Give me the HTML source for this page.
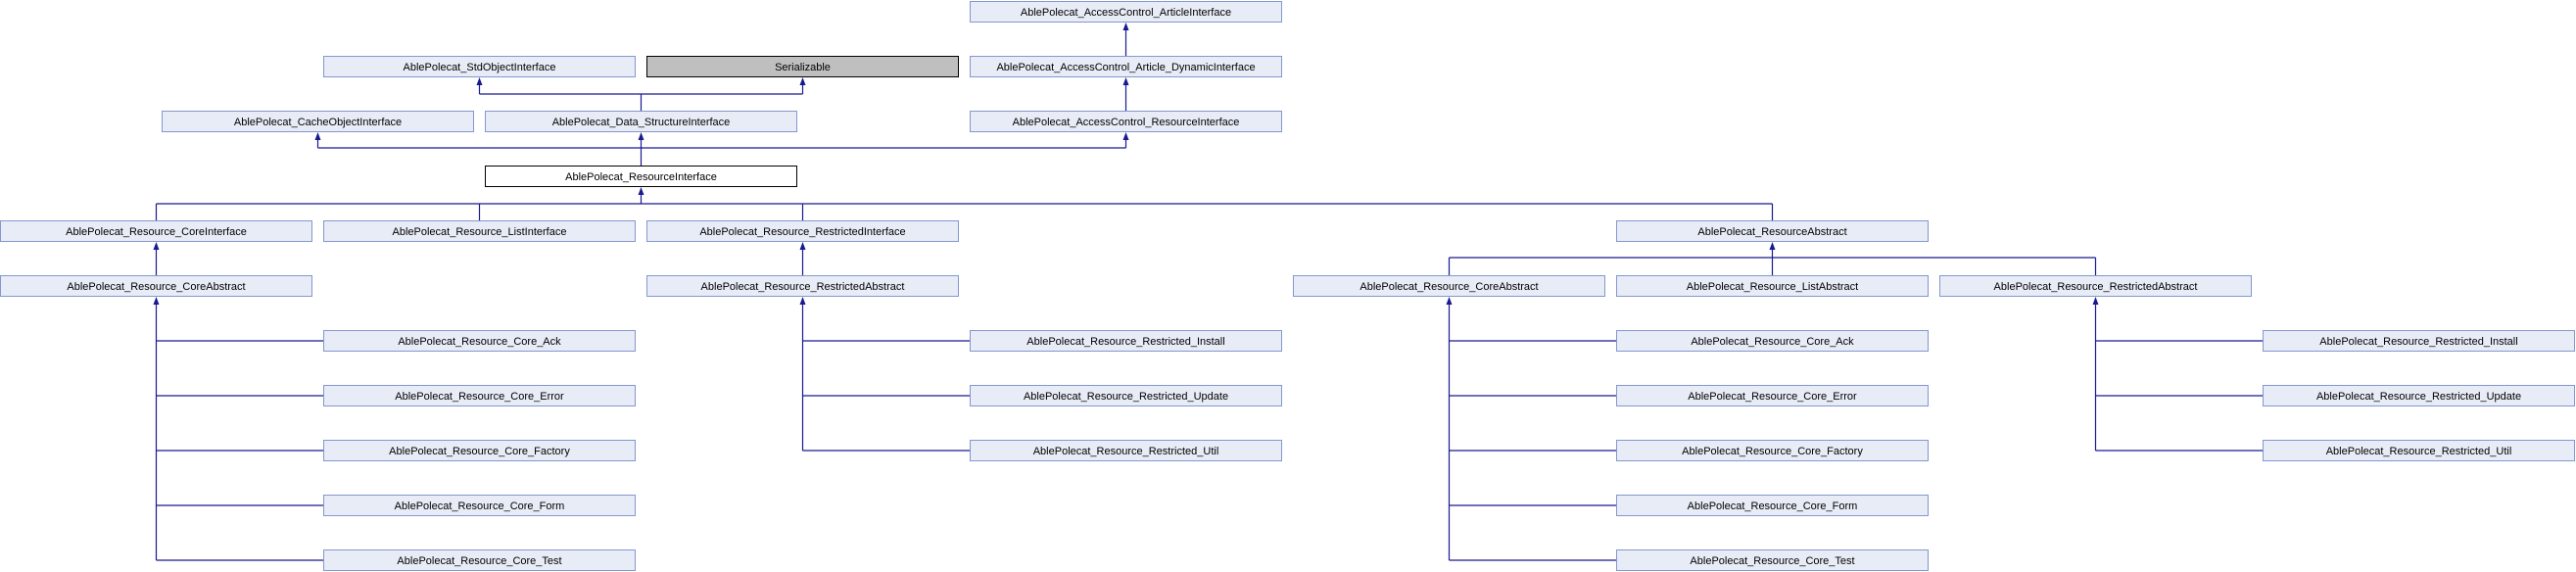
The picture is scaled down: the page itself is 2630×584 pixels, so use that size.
<!DOCTYPE html>
<html><head><meta charset="utf-8"><style>
html,body{margin:0;padding:0;background:#fff;}
svg{display:block;}
text{font-family:"Liberation Sans",sans-serif;font-size:11px;fill:#000;text-anchor:middle;}
.b{fill:#e8ecf6;stroke:#8497cf;stroke-width:1;}
.l{stroke:#191991;stroke-width:1.2;fill:none;}
.a{fill:#191991;}
</style></head><body>
<svg width="2630" height="584" viewBox="0 0 2630 584" xmlns="http://www.w3.org/2000/svg">
<path class="l" d="M1149.5 57V26 M1149.5 113V82
M654.5 113V96 M489.5 96H819.5 M489.5 96V82 M819.5 96V82
M654.5 169V138 M324.5 151H1149.5 M324.5 151V138 M1149.5 151V138
M654.5 208V194 M159.5 208H1809.5 M159.5 208V225 M489.5 208V225 M819.5 208V225 M1809.5 208V225
M159.5 281V250 M819.5 281V250
M1809.5 263V250 M1479.5 263H2139.5 M1479.5 263V281 M1809.5 263V281 M2139.5 263V281
M159.5 572V306 M159.5 348H330 M159.5 404H330 M159.5 460H330 M159.5 516H330 M159.5 572H330
M819.5 460V306 M819.5 348H990 M819.5 404H990 M819.5 460H990
M1479.5 572V306 M1479.5 348H1650 M1479.5 404H1650 M1479.5 460H1650 M1479.5 516H1650 M1479.5 572H1650
M2139.5 460V306 M2139.5 348H2310 M2139.5 404H2310 M2139.5 460H2310"/>
<g class="a">
<polygon points="1149.5,23 1146.5,31 1152.5,31"/>
<polygon points="1149.5,79 1146.5,87 1152.5,87"/>
<polygon points="489.5,79 486.5,87 492.5,87"/>
<polygon points="819.5,79 816.5,87 822.5,87"/>
<polygon points="654.5,135 651.5,143 657.5,143"/>
<polygon points="324.5,135 321.5,143 327.5,143"/>
<polygon points="1149.5,135 1146.5,143 1152.5,143"/>
<polygon points="654.5,191 651.5,199 657.5,199"/>
<polygon points="159.5,247 156.5,255 162.5,255"/>
<polygon points="819.5,247 816.5,255 822.5,255"/>
<polygon points="1809.5,247 1806.5,255 1812.5,255"/>
<polygon points="159.5,303 156.5,311 162.5,311"/>
<polygon points="819.5,303 816.5,311 822.5,311"/>
<polygon points="1479.5,303 1476.5,311 1482.5,311"/>
<polygon points="2139.5,303 2136.5,311 2142.5,311"/>
</g>
<rect class="b" x="990.5" y="1.5" width="318" height="21"/><text x="1149.5" y="16">AblePolecat_AccessControl_ArticleInterface</text>
<rect class="b" x="330.5" y="57.5" width="318" height="21"/><text x="489.5" y="72">AblePolecat_StdObjectInterface</text>
<rect x="660.5" y="57.5" width="318" height="21" fill="#bfbfbf" stroke="#000"/><text x="819.5" y="72">Serializable</text>
<rect class="b" x="990.5" y="57.5" width="318" height="21"/><text x="1149.5" y="72">AblePolecat_AccessControl_Article_DynamicInterface</text>
<rect class="b" x="165.5" y="113.5" width="318" height="21"/><text x="324.5" y="128">AblePolecat_CacheObjectInterface</text>
<rect class="b" x="495.5" y="113.5" width="318" height="21"/><text x="654.5" y="128">AblePolecat_Data_StructureInterface</text>
<rect class="b" x="990.5" y="113.5" width="318" height="21"/><text x="1149.5" y="128">AblePolecat_AccessControl_ResourceInterface</text>
<rect x="495.5" y="169.5" width="318" height="21" fill="#fff" stroke="#000"/><text x="654.5" y="184">AblePolecat_ResourceInterface</text>
<rect class="b" x="0.5" y="225.5" width="318" height="21"/><text x="159.5" y="240">AblePolecat_Resource_CoreInterface</text>
<rect class="b" x="330.5" y="225.5" width="318" height="21"/><text x="489.5" y="240">AblePolecat_Resource_ListInterface</text>
<rect class="b" x="660.5" y="225.5" width="318" height="21"/><text x="819.5" y="240">AblePolecat_Resource_RestrictedInterface</text>
<rect class="b" x="1650.5" y="225.5" width="318" height="21"/><text x="1809.5" y="240">AblePolecat_ResourceAbstract</text>
<rect class="b" x="0.5" y="281.5" width="318" height="21"/><text x="159.5" y="296">AblePolecat_Resource_CoreAbstract</text>
<rect class="b" x="660.5" y="281.5" width="318" height="21"/><text x="819.5" y="296">AblePolecat_Resource_RestrictedAbstract</text>
<rect class="b" x="1320.5" y="281.5" width="318" height="21"/><text x="1479.5" y="296">AblePolecat_Resource_CoreAbstract</text>
<rect class="b" x="1650.5" y="281.5" width="318" height="21"/><text x="1809.5" y="296">AblePolecat_Resource_ListAbstract</text>
<rect class="b" x="1980.5" y="281.5" width="318" height="21"/><text x="2139.5" y="296">AblePolecat_Resource_RestrictedAbstract</text>
<rect class="b" x="330.5" y="337.5" width="318" height="21"/><text x="489.5" y="352">AblePolecat_Resource_Core_Ack</text>
<rect class="b" x="330.5" y="393.5" width="318" height="21"/><text x="489.5" y="408">AblePolecat_Resource_Core_Error</text>
<rect class="b" x="330.5" y="449.5" width="318" height="21"/><text x="489.5" y="464">AblePolecat_Resource_Core_Factory</text>
<rect class="b" x="330.5" y="505.5" width="318" height="21"/><text x="489.5" y="520">AblePolecat_Resource_Core_Form</text>
<rect class="b" x="330.5" y="561.5" width="318" height="21"/><text x="489.5" y="576">AblePolecat_Resource_Core_Test</text>
<rect class="b" x="990.5" y="337.5" width="318" height="21"/><text x="1149.5" y="352">AblePolecat_Resource_Restricted_Install</text>
<rect class="b" x="990.5" y="393.5" width="318" height="21"/><text x="1149.5" y="408">AblePolecat_Resource_Restricted_Update</text>
<rect class="b" x="990.5" y="449.5" width="318" height="21"/><text x="1149.5" y="464">AblePolecat_Resource_Restricted_Util</text>
<rect class="b" x="1650.5" y="337.5" width="318" height="21"/><text x="1809.5" y="352">AblePolecat_Resource_Core_Ack</text>
<rect class="b" x="1650.5" y="393.5" width="318" height="21"/><text x="1809.5" y="408">AblePolecat_Resource_Core_Error</text>
<rect class="b" x="1650.5" y="449.5" width="318" height="21"/><text x="1809.5" y="464">AblePolecat_Resource_Core_Factory</text>
<rect class="b" x="1650.5" y="505.5" width="318" height="21"/><text x="1809.5" y="520">AblePolecat_Resource_Core_Form</text>
<rect class="b" x="1650.5" y="561.5" width="318" height="21"/><text x="1809.5" y="576">AblePolecat_Resource_Core_Test</text>
<rect class="b" x="2310.5" y="337.5" width="318" height="21"/><text x="2469.5" y="352">AblePolecat_Resource_Restricted_Install</text>
<rect class="b" x="2310.5" y="393.5" width="318" height="21"/><text x="2469.5" y="408">AblePolecat_Resource_Restricted_Update</text>
<rect class="b" x="2310.5" y="449.5" width="318" height="21"/><text x="2469.5" y="464">AblePolecat_Resource_Restricted_Util</text>
</svg>
</body></html>
